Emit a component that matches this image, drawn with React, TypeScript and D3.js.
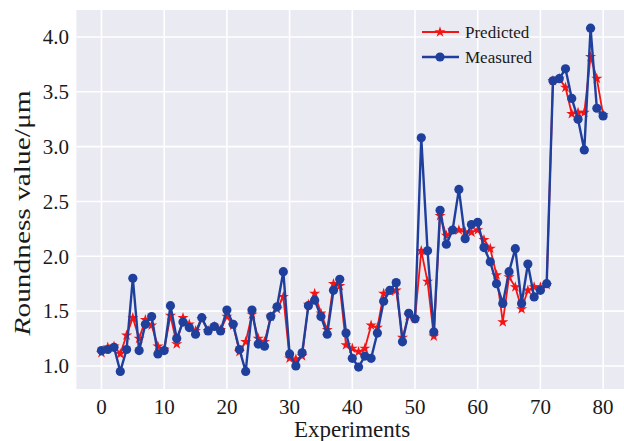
import React from "react";
import * as d3 from "d3";

const experiments = d3.range(0, 81);
const measured = [
  1.14, 1.15, 1.17, 0.95, 1.15, 1.80, 1.14, 1.38, 1.45, 1.11,
  1.14, 1.55, 1.25, 1.40, 1.35, 1.29, 1.44, 1.32, 1.36, 1.32,
  1.51, 1.38, 1.15, 0.95, 1.51, 1.20, 1.18, 1.45, 1.54, 1.86,
  1.11, 1.00, 1.12, 1.55, 1.60, 1.45, 1.29, 1.69, 1.79, 1.30,
  1.07, 0.99, 1.09, 1.07, 1.30, 1.59, 1.69, 1.76, 1.22, 1.48,
  1.43, 3.08, 2.05, 1.31, 2.42, 2.11, 2.24, 2.61, 2.16, 2.29,
  2.31, 2.08, 1.95, 1.75, 1.57, 1.86, 2.07, 1.57, 1.93, 1.63,
  1.69, 1.75, 3.60, 3.62, 3.71, 3.44, 3.25, 2.97, 4.08, 3.35,
  3.28,
];
const predicted = [
  1.12, 1.17, 1.18, 1.11, 1.28, 1.44, 1.25, 1.42, 1.37, 1.18,
  1.15, 1.46, 1.20, 1.44, 1.38, 1.32, 1.43, 1.32, 1.36, 1.33,
  1.45, 1.37, 1.13, 1.22, 1.47, 1.25, 1.22, 1.45, 1.52, 1.63,
  1.07, 1.06, 1.09, 1.56, 1.66, 1.48, 1.33, 1.75, 1.73, 1.19,
  1.16, 1.13, 1.16, 1.37, 1.35, 1.66, 1.68, 1.69, 1.26, 1.46,
  1.43, 2.05, 1.77, 1.27, 2.37, 2.19, 2.24, 2.24, 2.22, 2.22,
  2.24, 2.15, 2.07, 1.83, 1.40, 1.81, 1.72, 1.52, 1.69, 1.72,
  1.72, 1.74, 3.60, 3.62, 3.54, 3.30, 3.31, 3.31, 3.82, 3.62,
  3.29,
];
const xTicks = [0, 10, 20, 30, 40, 50, 60, 70, 80];
const yTicks = [1.0, 1.5, 2.0, 2.5, 3.0, 3.5, 4.0];
const seriesNames = ["Predicted", "Measured"];

const W = 624;
const H = 441;
const RED = "#f51414";
const BLUE = "#1f3f9d";
const FONT = "'Liberation Serif', 'Times New Roman', serif";

export default function App() {
  const x = d3.scaleLinear().domain([-4, 84]).range([76.4, 628.2]);
  const y = d3.scaleLinear().domain([0.79, 4.246]).range([389, 10]);
  const line = d3
    .line<number>()
    .x((_, i) => x(experiments[i]))
    .y((d) => y(d));
  const star = d3.symbol().type(d3.symbolStar).size(38)() as string;

  return (
    <svg
      width={W}
      height={H}
      style={{ position: "absolute", left: 0, top: 0, background: "#fff" }}
    >
      <rect x={x(-4)} y={y(4.246)} width={x(84) - x(-4)} height={y(0.79) - y(4.246)} fill="#eaeaf2" />
      {xTicks.map((t) => (
        <line key={"gx" + t} x1={x(t)} x2={x(t)} y1={y(4.246)} y2={y(0.79)} stroke="#fff" strokeWidth={1.6} />
      ))}
      {yTicks.map((t) => (
        <line key={"gy" + t} x1={x(-4)} x2={x(84)} y1={y(t)} y2={y(t)} stroke="#fff" strokeWidth={1.6} />
      ))}

      <path d={line(predicted) || ""} fill="none" stroke={RED} strokeWidth={1.8} />
      {predicted.map((v, i) => (
        <path key={"p" + i} d={star} transform={`translate(${x(experiments[i])},${y(v)})`} fill={RED} />
      ))}
      <path d={line(measured) || ""} fill="none" stroke={BLUE} strokeWidth={2.4} />
      {measured.map((v, i) => (
        <circle key={"m" + i} cx={x(experiments[i])} cy={y(v)} r={4.6} fill={BLUE} />
      ))}

      {xTicks.map((t) => (
        <text key={"tx" + t} x={x(t)} y={414} textAnchor="middle" fontFamily={FONT} fontSize={21} fill="#1a1a1a">
          {t}
        </text>
      ))}
      {yTicks.map((t) => (
        <text key={"ty" + t} x={69} y={y(t)} dy="0.35em" textAnchor="end" fontFamily={FONT} fontSize={21} fill="#1a1a1a">
          {t.toFixed(1)}
        </text>
      ))}
      <text x={352} y={437} textAnchor="middle" fontFamily={FONT} fontSize={23} fill="#1a1a1a">
        Experiments
      </text>
      <text
        transform={`translate(30,213) rotate(-90)`}
        textAnchor="middle"
        fontFamily={FONT}
        fontSize={23}
        fill="#1a1a1a"
        textLength={245}
        lengthAdjust="spacingAndGlyphs"
      >
        <tspan fontStyle="italic">R</tspan>oundness value/μm
      </text>

      {seriesNames.map((name, k) => {
        const ly = k === 0 ? 32 : 57;
        return (
          <g key={name}>
            <line x1={422} x2={459} y1={ly} y2={ly} stroke={k === 0 ? RED : BLUE} strokeWidth={k === 0 ? 1.8 : 2.4} />
            {k === 0 ? (
              <path d={star} transform={`translate(440,${ly})`} fill={RED} />
            ) : (
              <circle cx={440} cy={ly} r={4.6} fill={BLUE} />
            )}
            <text x={465} y={ly} dy="0.35em" fontFamily={FONT} fontSize={17} fill="#1a1a1a">
              {name}
            </text>
          </g>
        );
      })}
    </svg>
  );
}
